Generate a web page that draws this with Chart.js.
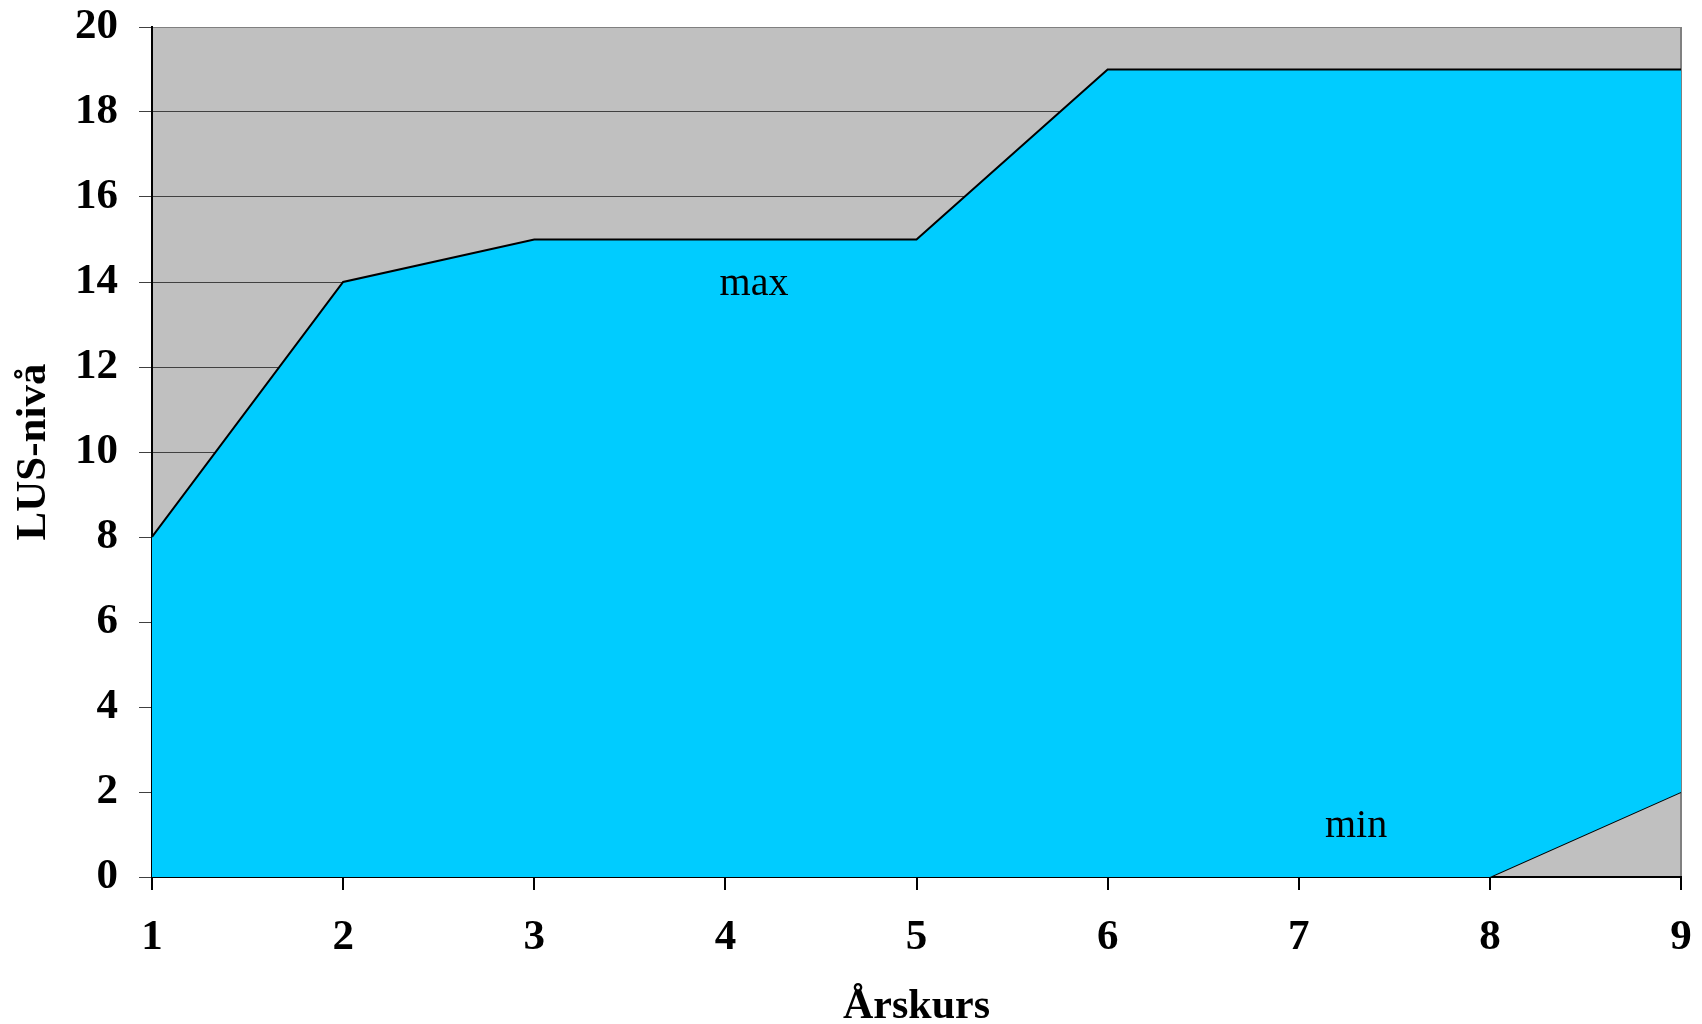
<!DOCTYPE html>
<html>
<head>
<meta charset="utf-8">
<script src="https://cdn.jsdelivr.net/npm/chart.js@4.4.1/dist/chart.umd.min.js"></script>
<style>
  html, body { margin: 0; padding: 0; background: #fff; }
  #wrap { width: 1702px; height: 1024px; position: relative; }
</style>
</head>
<body>
<div id="wrap"><canvas id="lus"></canvas></div>
<script>
// Årskurs 1..9
const grades = [1, 2, 3, 4, 5, 6, 7, 8, 9];
// LUS-nivå, upper and lower bound
const maxLevel = [8, 14, 15, 15, 15, 19, 19, 19, 19];
const minLevel = [0, 0, 0, 0, 0, 0, 0, 0, 2];
const yTicks = [0, 2, 4, 6, 8, 10, 12, 14, 16, 18, 20];

// text labels inside the plot (data coordinates)
const noteText = ['max', 'min'];
const noteX = [4.15, 7.3];
const noteY = [13.95, 1.18];

const serif = "'Liberation Serif', 'Times New Roman', serif";

const toPoints = (xs, ys) => xs.map((x, i) => ({ x: x, y: ys[i] }));
const last = grades.length - 1;

// let the layout padding alone decide where the plot sits
const noEdgePad = s => {
    s.paddingTop = 0;
    s.paddingBottom = 0;
    s.paddingLeft = 0;
    s.paddingRight = 0;
};

// grey plot background
const plotBg = {
    id: 'plotBg',
    beforeDraw: function(chart) {
        const a = chart.chartArea;
        const c = chart.ctx;
        c.save();
        c.fillStyle = '#c0c0c0';
        c.fillRect(a.left, a.top, a.right - a.left, a.bottom - a.top);
        c.restore();
    }
};

// "max" / "min" labels
const notes = {
    id: 'notes',
    afterDatasetsDraw: function(chart) {
        const c = chart.ctx;
        const sx = chart.scales.x, sy = chart.scales.y;
        c.save();
        c.fillStyle = '#000';
        c.font = '40px ' + serif;
        c.textAlign = 'center';
        c.textBaseline = 'middle';
        noteText.forEach((t, i) => {
            c.fillText(t, sx.getPixelForValue(noteX[i]), sy.getPixelForValue(noteY[i]));
        });
        c.restore();
    }
};

new Chart(document.getElementById('lus'), {
    type: 'line',
    data: {
        datasets: [
            {
                label: 'max',
                data: toPoints(grades, maxLevel),
                fill: '+1',
                backgroundColor: '#00ccff',
                borderColor: '#000',
                borderWidth: 2,
                pointRadius: 0,
                tension: 0
            },
            {
                label: 'min',
                data: toPoints(grades, minLevel),
                fill: false,
                borderColor: '#000',
                borderWidth: 2,
                pointRadius: 0,
                tension: 0
            },
            {
                // closing edge at the last grade
                label: 'edge',
                data: [
                    { x: grades[last], y: minLevel[last] },
                    { x: grades[last], y: maxLevel[last] }
                ],
                fill: false,
                borderColor: '#000',
                borderWidth: 3,
                pointRadius: 0
            }
        ]
    },
    options: {
        responsive: true,
        maintainAspectRatio: false,
        animation: false,
        layout: { padding: { top: 27, right: 21, left: 0, bottom: 0 } },
        plugins: {
            legend: { display: false },
            tooltip: { enabled: false }
        },
        scales: {
            x: {
                type: 'linear',
                min: grades[0],
                max: grades[last],
                ticks: {
                    stepSize: 1,
                    padding: 22,
                    color: '#000',
                    font: { family: serif, size: 43, weight: 'bold' }
                },
                grid: {
                    color: ctx => ctx.tick && ctx.tick.value === grades[last] ? '#808080' : 'rgba(0,0,0,0)',
                    tickColor: '#000',
                    tickLength: 13,
                    lineWidth: 2
                },
                border: { color: '#000', width: 2 },
                title: {
                    display: true,
                    text: 'Årskurs',
                    color: '#000',
                    font: { family: serif, size: 42, weight: 'bold', lineHeight: 0.8 },
                    padding: { top: 0, bottom: 0 }
                },
                afterFit: s => { s.height = 147; noEdgePad(s); }
            },
            y: {
                min: 0,
                max: 20,
                afterBuildTicks: s => { s.ticks = yTicks.map(v => ({ value: v })); },
                ticks: {
                    padding: 21,
                    color: '#000',
                    font: { family: serif, size: 43, weight: 'bold' }
                },
                grid: {
                    color: ctx => ctx.tick && ctx.tick.value === 20 ? '#808080' : '#404040',
                    tickColor: '#404040',
                    tickLength: 13,
                    lineWidth: 1
                },
                border: { color: '#000', width: 2 },
                title: {
                    display: true,
                    text: 'LUS-nivå',
                    color: '#000',
                    font: { family: serif, size: 43, weight: 'bold' },
                    padding: { top: 8, bottom: 0 }
                },
                afterFit: s => { s.width = 152; noEdgePad(s); }
            }
        }
    },
    plugins: [plotBg, notes]
});
</script>
</body>
</html>
